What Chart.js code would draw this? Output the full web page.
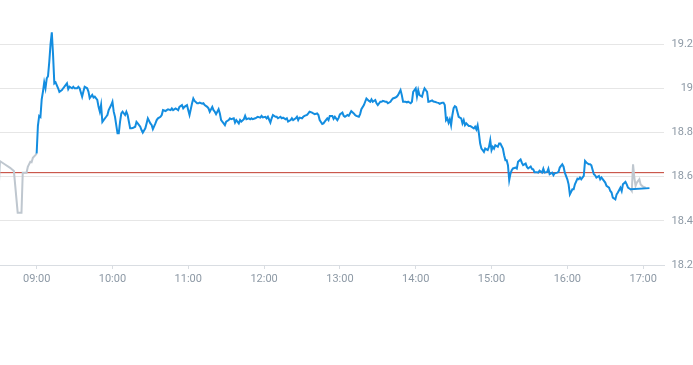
<!DOCTYPE html>
<html>
<head>
<meta charset="utf-8">
<style>
  html, body { margin: 0; padding: 0; background: #ffffff; }
  #wrap { width: 693px; height: 365px; }
</style>
<script src="https://cdn.jsdelivr.net/npm/chart.js@4.4.1/dist/chart.umd.min.js"></script>
</head>
<body>
<div id="wrap"><canvas id="c" width="693" height="365"></canvas></div>
<script>
// Minutes relative to 09:00 for the regular session
const regularMinutes = [
  0,1,2,3,4,5,6,7,8,9,10,11,12,13,14,15,17,18,20,21,22,24,25,26,28,29,30,32,33,34,36,37,38,40,41,42,44,45,46,48,49,50,
  51,52,53,55,56,57,59,60,61,62,63,64,65,66,67,68,70,71,72,74,75,76,78,79,80,82,83,84,86,87,88,90,91,92,94,95,96,98,99,100,
  102,103,104,106,107,108,110,111,112,113,115,116,117,119,120,121,123,124,125,127,128,129,131,132,133,135,136,137,139,140,141,142,144,145,146,148,149,150,
  152,153,154,156,157,158,160,161,162,164,165,166,168,169,170,171,173,174,175,177,178,179,181,182,183,185,186,187,189,190,191,193,194,195,197,198,199,
  201,202,203,205,206,207,208,210,211,212,214,215,216,218,219,220,222,223,224,226,227,228,230,231,232,234,235,236,238,239,240,242,243,244,246,247,248,249,
  251,252,253,255,256,257,259,260,261,263,264,265,266,268,269,270,272,273,274,276,277,278,280,281,282,284,285,286,288,289,290,292,293,294,296,297,298,
  300,301,302,303,305,306,307,309,310,311,313,314,315,317,318,319,321,322,323,324,325,326,327,328,329,330,331,332,333,334,335,336,337,338,339,340,342,343,344,346,347,348,349,
  350,351,352,353,354,355,357,358,359,360,361,362,363,365,366,367,369,370,371,372,373,374,375,376,377,379,380,381,383,384,385,387,388,389,391,392,393,394,396,397,398,
  400,401,402,404,405,406,408,409,410,412,413,414,416,417,418,420,421,422,424,425,426,428,429,430,431,433,434,435,437,438,439,441,442,443,445,446,447,449,
  450,451,453,454,455,456,458,459,460,462,463,464,466,467,468,470,485
];
const regularPrices = [
  18.705,18.83,18.875,18.87,18.95,18.985,19.027,19.0,19.045,19.055,19.12,19.2,19.253,19.15,19.022,19.027,19.0,18.984,18.992,19.0,19.007,19.022,18.996,19.007,19.0,19.007,19.0,19.0,19.007,19.0,18.962,18.985,19.007,19.0,18.985,18.955,18.97,18.958,18.962,18.947,18.916,18.894,
  18.925,18.848,18.856,18.871,18.879,18.901,18.924,18.939,18.894,18.871,18.833,18.796,18.796,18.848,18.886,18.894,18.879,18.894,18.879,18.819,18.819,18.82,18.826,18.848,18.841,18.826,18.811,18.799,18.819,18.841,18.864,18.841,18.834,18.815,18.841,18.856,18.864,18.871,18.879,18.901,
  18.897,18.901,18.905,18.901,18.909,18.901,18.909,18.905,18.901,18.916,18.924,18.909,18.916,18.924,18.901,18.879,18.932,18.954,18.943,18.932,18.932,18.935,18.93,18.932,18.924,18.916,18.909,18.894,18.916,18.901,18.894,18.883,18.905,18.886,18.856,18.841,18.833,18.849,
  18.856,18.864,18.86,18.864,18.845,18.856,18.841,18.856,18.849,18.86,18.875,18.86,18.864,18.86,18.864,18.86,18.864,18.867,18.871,18.867,18.875,18.868,18.871,18.864,18.871,18.845,18.864,18.879,18.871,18.871,18.864,18.871,18.864,18.867,18.86,18.864,18.849,
  18.856,18.864,18.856,18.864,18.871,18.856,18.867,18.864,18.871,18.875,18.879,18.886,18.894,18.89,18.886,18.883,18.886,18.879,18.856,18.838,18.841,18.849,18.864,18.856,18.875,18.875,18.862,18.871,18.856,18.866,18.882,18.89,18.875,18.871,18.879,18.875,18.886,18.897,
  18.886,18.879,18.875,18.871,18.883,18.905,18.924,18.939,18.954,18.943,18.939,18.95,18.939,18.947,18.932,18.924,18.939,18.939,18.943,18.939,18.939,18.932,18.939,18.947,18.954,18.958,18.962,18.969,18.992,18.969,18.939,18.939,18.936,18.939,18.932,18.939,18.984,
  19.0,18.962,18.992,18.969,18.962,18.984,19.0,18.984,18.939,18.94,18.945,18.94,18.939,18.935,18.934,18.93,18.935,18.935,18.924,18.856,18.864,18.844,18.86,18.833,18.878,18.91,18.919,18.915,18.893,18.871,18.867,18.864,18.841,18.856,18.833,18.841,18.829,18.829,18.826,18.818,18.826,18.814,18.833,
  18.796,18.75,18.727,18.72,18.712,18.727,18.72,18.735,18.765,18.72,18.735,18.727,18.742,18.735,18.75,18.75,18.727,18.697,18.674,18.674,18.652,18.584,18.614,18.629,18.637,18.641,18.637,18.667,18.678,18.663,18.652,18.659,18.644,18.637,18.646,18.635,18.633,18.62,18.62,18.618,18.627,
  18.618,18.636,18.618,18.621,18.636,18.611,18.618,18.606,18.615,18.618,18.621,18.641,18.656,18.645,18.618,18.588,18.565,18.52,18.543,18.543,18.565,18.591,18.588,18.596,18.588,18.603,18.671,18.664,18.656,18.656,18.651,18.611,18.606,18.596,18.603,18.588,18.596,18.581,
  18.573,18.558,18.55,18.535,18.528,18.505,18.497,18.52,18.528,18.55,18.535,18.565,18.576,18.565,18.55,18.543,18.548
];
const preMinutes = [-31,-29,-25,-21,-18,-15,-12,-11,-8,-7,-5,-4,-3,-1,0];
const prePrices  = [18.437,18.67,18.655,18.64,18.625,18.437,18.437,18.618,18.618,18.644,18.667,18.665,18.685,18.697,18.705];
const postMinutes = [470,471,472,473,474,475,477,478,480,482];
const postPrices  = [18.543,18.535,18.656,18.596,18.558,18.573,18.588,18.565,18.554,18.55];
const previousClose = 18.618;
const xTickLabels = ['09:00','10:00','11:00','12:00','13:00','14:00','15:00','16:00','17:00'];
const yTickValues = [18.2,18.4,18.6,18.8,19,19.2];
const yTickLabels = ['18.2','18.4','18.6','18.8','19','19.2'];
const xMin = -29, xMax = 496.5, yMin = 18.2, yMax = 19.3;

const toPoints = (xs, ys) => xs.map((x, i) => ({ x: x, y: ys[i] }));

Chart.defaults.font.family = 'Roboto, "Liberation Sans", sans-serif';
Chart.defaults.font.size = 11;
Chart.defaults.color = '#8d99a5';

new Chart(document.getElementById('c'), {
  type: 'line',
  data: {
    datasets: [
      { data: toPoints(regularMinutes, regularPrices), borderColor: '#138de0', borderWidth: 2, pointRadius: 0, tension: 0, fill: false },
      { data: toPoints(postMinutes, postPrices), borderColor: '#bfc7cf', borderWidth: 2, pointRadius: 0, tension: 0, fill: false },
      { data: toPoints(preMinutes, prePrices), borderColor: '#bfc7cf', borderWidth: 2, pointRadius: 0, tension: 0, fill: false },
      { data: [{ x: xMin, y: previousClose }, { x: xMax, y: previousClose }], borderColor: '#c0392b', borderWidth: 1, pointRadius: 0, fill: false }
    ]
  },
  options: {
    responsive: false,
    animation: false,
    events: [],
    layout: { padding: { top: 22, left: 0, right: 0, bottom: 0 } },
    plugins: { legend: { display: false }, tooltip: { enabled: false } },
    scales: {
      x: {
        type: 'linear',
        min: xMin, max: xMax,
        afterBuildTicks: (s) => { s.ticks = xTickLabels.map((_, i) => ({ value: i * 60 })); },
        afterFit: (s) => { s.height = 100; },
        ticks: { callback: (v, i) => xTickLabels[i], padding: 4, maxRotation: 0, autoSkip: false },
        grid: { drawOnChartArea: false, drawTicks: true, tickLength: 4, color: '#d9dde2' },
        border: { display: true, color: '#d9dde2' }
      },
      y: {
        position: 'right',
        min: yMin, max: yMax,
        afterBuildTicks: (s) => { s.ticks = yTickValues.map(v => ({ value: v })); },
        afterFit: (s) => { s.width = 29; },
        ticks: { callback: (v, i) => yTickLabels[i], crossAlign: 'far', padding: 0 },
        grid: { drawTicks: false, color: '#e6e6e6' },
        border: { display: false }
      }
    }
  }
});
</script>
</body>
</html>
